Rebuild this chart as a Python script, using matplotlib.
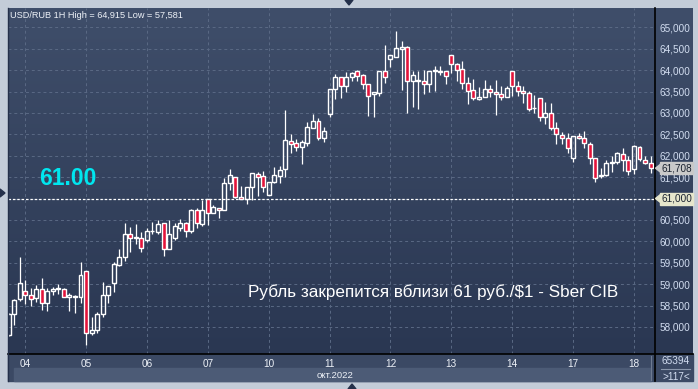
import numpy as np
import matplotlib.pyplot as plt
from matplotlib.lines import Line2D
from matplotlib.patches import Rectangle, Polygon

# hourly USD/RUB candles, 3..18 Oct 2022
opens = [57.80, 58.29, 58.645, 58.83, 58.74, 58.67, 58.88, 58.55, 58.85, 58.88,
         58.89, 58.71, 58.71, 58.71, 59.30, 57.85, 57.93, 58.29, 58.745, 59.02,
         59.45, 59.63, 60.16, 60.07, 60.07, 60.03, 60.23, 60.21, 60.42, 59.82,
         60.07, 60.32, 60.42, 60.23, 60.73, 60.40, 61.00, 60.67, 60.78, 60.74,
         61.36, 61.51, 61.04, 61.00, 61.26, 61.58, 61.53, 61.09, 61.38, 61.53,
         61.68, 62.34, 62.29, 62.20, 62.30, 62.64, 62.81, 62.41, 62.97, 63.56,
         63.83, 63.63, 63.83, 63.98, 63.89, 63.67, 63.44, 63.47, 63.98, 64.25,
         64.31, 64.49, 64.53, 63.75, 63.75, 63.75, 63.67, 63.97, 63.99, 63.98,
         64.35, 64.14, 64.02, 63.71, 63.54, 63.33, 63.38, 63.55, 63.50, 63.43,
         63.37, 63.99, 63.64, 63.51, 63.47, 63.11, 63.35, 62.91, 63.00, 62.65,
         62.48, 62.42, 61.95, 62.47, 62.42, 62.28, 61.94, 61.52, 61.54, 61.84,
         61.86, 62.04, 61.90, 61.69, 62.21, 61.91, 61.83]
highs = [58.32, 58.66, 59.64, 59.10, 58.90, 58.98, 59.14, 58.90, 58.94, 59.00,
         58.92, 58.785, 58.74, 59.51, 59.30, 58.24, 58.35, 59.06, 58.96, 59.51,
         59.82, 60.42, 60.33, 60.40, 60.22, 60.31, 60.46, 60.50, 60.42, 60.49,
         60.42, 60.53, 60.44, 60.75, 60.77, 60.96, 61.00, 60.84, 60.78, 61.48,
         61.70, 61.51, 61.30, 61.26, 61.59, 61.63, 61.65, 61.38, 61.74, 61.77,
         63.07, 62.50, 62.39, 62.37, 62.78, 62.98, 62.87, 62.66, 63.56, 63.91,
         63.83, 63.95, 63.96, 64.00, 63.91, 63.67, 63.48, 63.98, 64.59, 64.35,
         64.915, 64.68, 64.56, 63.98, 63.98, 64.00, 63.98, 64.10, 64.10, 63.98,
         64.35, 64.17, 64.22, 63.83, 63.79, 63.61, 63.77, 63.65, 63.78, 63.64,
         63.64, 63.99, 63.74, 63.64, 63.51, 63.41, 63.35, 63.25, 63.24, 62.79,
         62.55, 62.54, 62.47, 62.54, 62.57, 62.32, 61.94, 61.72, 61.91, 61.99,
         62.09, 62.17, 61.99, 62.26, 62.22, 62.00, 62.00]
lows = [57.78, 58.04, 58.60, 58.53, 58.49, 58.59, 58.39, 58.38, 58.74, 58.78,
        58.69, 58.37, 58.33, 58.55, 57.581, 57.81, 57.86, 58.22, 58.57, 58.82,
        59.42, 59.55, 59.75, 59.93, 59.75, 59.99, 60.17, 60.17, 59.66, 59.82,
        60.03, 60.24, 60.10, 60.20, 60.30, 60.36, 60.38, 60.67, 60.54, 60.74,
        61.19, 61.02, 60.98, 60.87, 60.97, 61.07, 61.16, 61.09, 61.36, 61.37,
        61.51, 62.06, 62.11, 61.80, 62.23, 62.64, 62.37, 62.31, 62.90, 63.33,
        63.34, 63.50, 63.75, 63.75, 63.57, 62.93, 62.91, 63.40, 63.71, 64.08,
        64.31, 63.54, 63.00, 63.13, 63.09, 63.44, 63.50, 63.52, 63.89, 63.67,
        63.94, 63.75, 63.57, 63.20, 63.29, 63.29, 63.38, 63.38, 62.96, 63.31,
        63.37, 63.39, 63.39, 63.24, 63.04, 63.00, 62.81, 62.73, 62.61, 62.28,
        62.28, 62.07, 61.85, 62.40, 62.18, 61.80, 61.39, 61.48, 61.52, 61.61,
        61.81, 61.64, 61.54, 61.58, 61.87, 61.80, 61.60]
closes = [58.30, 58.64, 59.02, 58.74, 58.645, 58.88, 58.55, 58.83, 58.88, 58.90,
          58.69, 58.75, 58.73, 59.21, 57.85, 57.93, 58.29, 58.745, 58.96, 59.47,
          59.63, 60.16, 60.07, 60.09, 59.85, 60.23, 60.24, 60.40, 59.82, 60.18,
          60.35, 60.42, 60.24, 60.73, 60.42, 60.73, 60.67, 60.79, 60.74, 61.36,
          61.55, 61.04, 61.00, 61.26, 61.59, 61.51, 61.27, 61.38, 61.55, 61.67,
          62.37, 62.27, 62.20, 62.31, 62.66, 62.81, 62.41, 62.58, 63.56, 63.83,
          63.63, 63.83, 63.93, 63.87, 63.67, 63.40, 63.48, 63.98, 63.83, 64.35,
          64.51, 64.53, 63.75, 63.89, 63.78, 63.67, 63.98, 64.00, 63.95, 63.87,
          64.14, 64.00, 63.71, 63.52, 63.34, 63.38, 63.55, 63.50, 63.45, 63.38,
          63.59, 63.64, 63.51, 63.47, 63.10, 63.12, 62.91, 63.00, 62.65, 62.50,
          62.42, 62.19, 62.47, 62.42, 62.29, 61.94, 61.48, 61.56, 61.84, 61.86,
          62.07, 61.91, 61.64, 62.22, 61.93, 61.83, 61.708]

day_labels = ['04', '05', '06', '07', '10', '11', '12', '13', '14', '17', '18']
day_start = [3, 14, 25, 36, 47, 58, 69, 80, 91, 102, 113]
y_ticks = [58.0, 58.5, 59.0, 59.5, 60.0, 60.5, 61.0, 61.5, 62.0, 62.5,
           63.0, 63.5, 64.0, 64.5, 65.0]
level = 61.00
last_price = 61.708
caption = 'Рубль закрепится вблизи 61 руб./$1 - Sber CIB'

W, H = 698, 389
SMALL = 'Liberation Sans'


def fx(px):
    return px / W


def fy(py):
    return 1 - py / H


def price_label(v):
    return '{:,.3f}'.format(v).replace('.', '#').replace(',', ' ').replace('#', ',').replace(' ', '')


fig = plt.figure(figsize=(W / 100, H / 100), dpi=100, facecolor='#c3ccd8')

# date strips (behind everything)
fig.patches.append(Rectangle((fx(8), fy(381)), fx(693 - 8), 27 / H,
                             transform=fig.transFigure, color='#3b4964', zorder=-2))
fig.patches.append(Rectangle((fx(14), fy(381)), fx(651 - 14), 13 / H,
                             transform=fig.transFigure, color='#4c5b76', zorder=-1))

# gradient panel behind chart + price axis
bg = fig.add_axes([fx(8), fy(354), fx(693 - 8), (354 - 8) / H])
grad = np.linspace(0, 1, 256).reshape(-1, 1)
top_c = np.array([0x3f, 0x4e, 0x6a]) / 255
bot_c = np.array([0x2a, 0x37, 0x52]) / 255
img = top_c * (1 - grad[..., None]) + bot_c * grad[..., None]
bg.imshow(img, aspect='auto', extent=[0, 1, 0, 1])
bg.axis('off')

ax = fig.add_axes([fx(8), fy(354), fx(655 - 8), (354 - 8) / H])
ax.set_facecolor('none')
ax.set_xlim(-0.1, 116.8)
ax.set_ylim(57.367, 65.451)

# grid
for y in y_ticks:
    ax.axhline(y, color='#5a6984', lw=0.7, ls=(0, (3, 3)), zorder=1)
for d in day_start:
    ax.axvline(d, color='#5a6984', lw=0.7, ls=(0, (3, 3)), zorder=1)

# candles
o = np.array(opens)
c = np.array(closes)
hi = np.array(highs)
lo = np.array(lows)
x = np.arange(len(o))
body_lo = np.minimum(o, c)
body_hi = np.maximum(o, c)
ax.vlines(x, lo, body_lo, color='white', lw=0.9, zorder=3)
ax.vlines(x, body_hi, hi, color='white', lw=0.9, zorder=3)
heights = np.maximum(body_hi - body_lo, 0.015)
up = c >= o
ax.bar(x[up], heights[up], bottom=body_lo[up], width=0.72, color='none',
       edgecolor='white', linewidth=1.0, zorder=4)
ax.bar(x[~up], heights[~up], bottom=body_lo[~up], width=0.72, color='#e3143b',
       edgecolor='white', linewidth=1.0, zorder=4)

# 61.00 level
ax.axhline(level, color='white', lw=0.9, ls=(0, (2, 1.5)), zorder=2)

# axes decoration
for s in ax.spines.values():
    s.set_visible(False)
ax.yaxis.tick_right()
ax.set_yticks([t for t in y_ticks if t != level])
ax.set_yticklabels(['{:,}'.format(int(round(t * 1000))) for t in y_ticks if t != level])
ax.tick_params(axis='y', length=0, pad=3, labelsize=7.2, labelcolor='#d2ddf0')
ax.set_xticks(day_start)
ax.set_xticklabels(day_labels)
ax.tick_params(axis='x', length=0, pad=3.5, labelsize=7.2, labelcolor='#eef2f8')
for t in ax.get_yticklabels() + ax.get_xticklabels():
    t.set_family(SMALL)

# frame lines
fig.lines.append(Line2D([fx(655), fx(655)], [fy(8), fy(381)], color='black', lw=1.2,
                        transform=fig.transFigure))
fig.lines.append(Line2D([fx(8), fx(693)], [fy(354), fy(354)], color='black', lw=1.2,
                        transform=fig.transFigure))
fig.lines.append(Line2D([fx(8), fx(8)], [fy(8), fy(381)], color='#24304a', lw=1.0,
                        transform=fig.transFigure))
fig.lines.append(Line2D([fx(651), fx(651)], [fy(356), fy(380)], color='#6d7a90', lw=0.8,
                        transform=fig.transFigure))
fig.lines.append(Line2D([fx(661), fx(690)], [fy(369), fy(369)], color='#8a97ac', lw=0.8,
                        transform=fig.transFigure))

# texts
fig.text(fx(10), fy(16), 'USD/RUB 1H High = 64,915 Low = 57,581', fontsize=6.6,
         color='#eef2f8', va='center', ha='left', family=SMALL)
fig.text(fx(39), fy(178), '61.00', fontsize=16.5, fontweight='bold', color='#00e6ef',
         va='center', ha='left', family='Liberation Sans')
fig.text(fx(248), fy(292), caption, fontsize=12.3, color='white', va='center', ha='left',
         family='Liberation Sans')
fig.text(fx(335), fy(375), 'окт.2022', fontsize=6.8, color='#eef2f8', va='center',
         ha='center', family=SMALL)
fig.text(fx(676), fy(361), '65394', fontsize=7.2, color='#d2ddf0', va='center',
         ha='center', family=SMALL)
fig.text(fx(676), fy(377), '>117<', fontsize=7.2, color='#d2ddf0', va='center',
         ha='center', family=SMALL)

# price labels with little arrow boxes
for val, fc in [(last_price, '#c9c9c9'), (level, '#e6e6cc')]:
    ypx = 27.3 + (65 - val) * 42.8
    fig.patches.append(Rectangle((fx(660), fy(ypx + 6)), fx(33), 12 / H,
                                 transform=fig.transFigure, color=fc, zorder=5))
    fig.patches.append(Polygon([[fx(655.5), fy(ypx)], [fx(660.5), fy(ypx - 4)],
                                [fx(660.5), fy(ypx + 4)]],
                               transform=fig.transFigure, color=fc, zorder=5))
    fig.text(fx(677), fy(ypx), price_label(val), fontsize=7.2, color='#1a2230',
             va='center', ha='center', zorder=6, family=SMALL)

# small scroll markers on the frame
for pts in [[(345, 0), (353, 0), (349, 5)],
            [(348, 389), (356, 389), (352, 384)],
            [(0, 189), (0, 197), (5, 193)]]:
    fig.patches.append(Polygon([[fx(a), fy(b)] for a, b in pts],
                               transform=fig.transFigure, color='#24304a', zorder=5))

fig.savefig('out.png', dpi=100, facecolor=fig.get_facecolor())
